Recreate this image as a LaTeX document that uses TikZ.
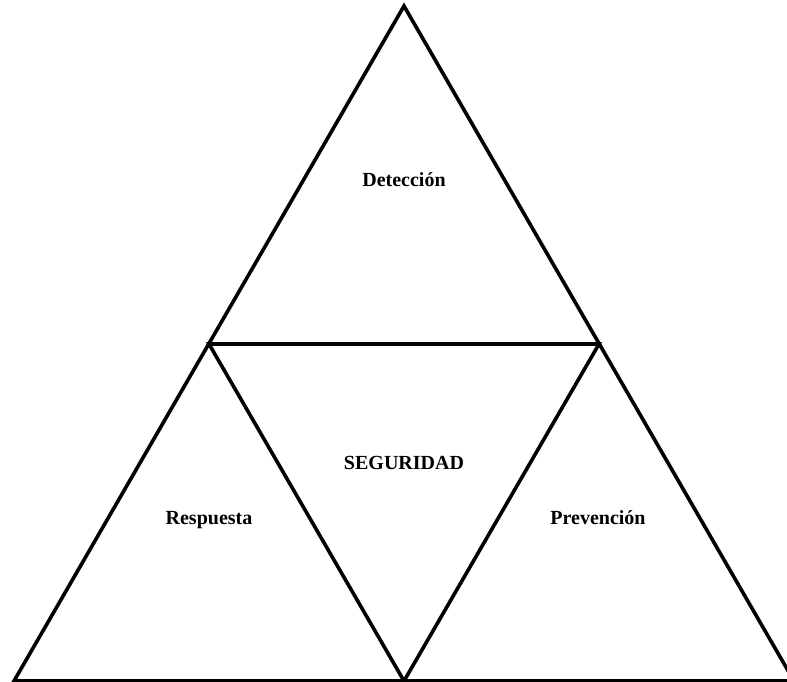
\documentclass[tikz,border=0pt]{standalone}
\usepackage{fontspec}
\setmainfont{Liberation Serif}
\begin{document}
\begin{tikzpicture}[x=0.75pt,y=-0.75pt,
  edge/.style={line width=2.7pt,line join=miter,black},
  lbl/.style={font=\bfseries\fontsize{15}{18}\selectfont,inner sep=0pt,anchor=base}]
\useasboundingbox (0,0) rectangle (787,681);
\begin{scope}
\clip (0,0) rectangle (787,681);
% corners of the outer triangle and midpoints of its sides
\coordinate (top) at (404,6);
\coordinate (bl) at (14,681);
\coordinate (br) at (794,681);
\coordinate (ml) at (209,344);
\coordinate (mr) at (599,344);
\coordinate (mb) at (404,681);
\draw[edge] (top) -- (bl) -- (br) -- cycle;
\draw[edge] (ml) -- (mr) -- (mb) -- cycle;
\end{scope}
\node[lbl] (det) at (404,186) {Detección};
\node[lbl] (seg) at (404,469) {SEGURIDAD};
\node[lbl] (res) at (209,524) {Respuesta};
\node[lbl] (pre) at (598,524) {Prevención};
\end{tikzpicture}
\end{document}
